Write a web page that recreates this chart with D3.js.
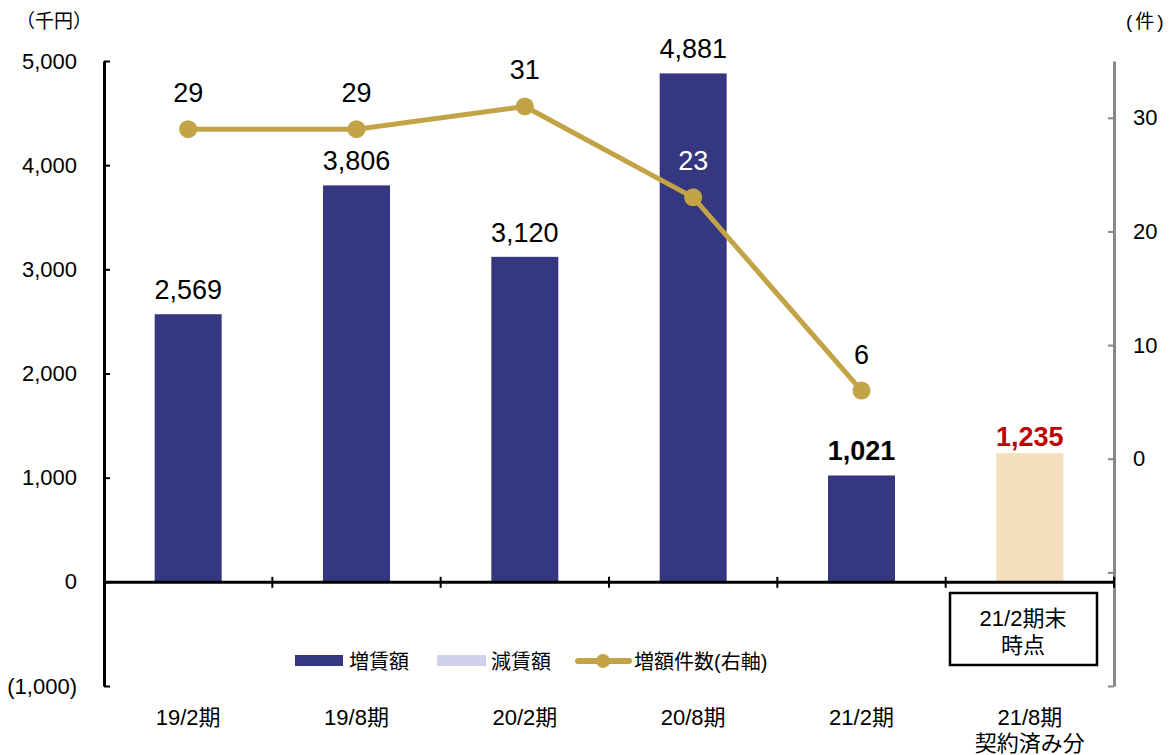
<!DOCTYPE html>
<html>
<head>
<meta charset="utf-8">
<script src="https://cdn.jsdelivr.net/npm/d3@7"></script>
<style>
  body { margin: 0; background: #fff; }
  text { font-family: "Liberation Sans", Arial, "Noto Sans CJK JP", sans-serif; }
</style>
</head>
<body>
<div id="chart"></div>
<script>
var categories = ["19/2期", "19/8期", "20/2期", "20/8期", "21/2期", "21/8期\n契約済み分"];
var increaseAmounts = [2569, 3806, 3120, 4881, 1021, 1235];
var increaseCounts = [29, 29, 31, 23, 6];
var leftTicks = [-1000, 0, 1000, 2000, 3000, 4000, 5000];
var rightTicks = [-20, -10, 0, 10, 20, 30];
var rightTickLabels = ["", "", "0", "10", "20", "30"];
var legendNames = ["増賃額", "減賃額", "増額件数(右軸)"];

function init() {
    var w = 1169, h = 755;
    var left = 104, right = 1114, top = 61, bottom = 686;
    var navy = "#363781", gold = "#C2A346", peach = "#F4DEBC", lavender = "#D1D1EE";

    var svg = d3.select("#chart").append("svg")
        .attr("width", w).attr("height", h);

    var x = d3.scaleBand().domain(categories).range([left, right]).paddingInner(0).paddingOuter(0);
    var y = d3.scaleLinear().domain([-1000, 5000]).range([bottom, top]);
    var y2 = d3.scaleLinear().domain([-20, 35]).range([bottom, top]);
    var barW = 67;

    // bars
    svg.selectAll("rect.bar").data(increaseAmounts).enter().append("rect")
        .attr("x", (d, i) => x(categories[i]) + x.bandwidth() / 2 - barW / 2)
        .attr("y", d => y(d))
        .attr("width", barW)
        .attr("height", d => y(0) - y(d))
        .attr("fill", (d, i) => i == 5 ? peach : navy);

    // bar labels
    svg.selectAll("text.bl").data(increaseAmounts).enter().append("text")
        .attr("x", (d, i) => x(categories[i]) + x.bandwidth() / 2)
        .attr("y", (d, i) => y(d) - (i == 5 ? 7 : 15))
        .attr("text-anchor", "middle")
        .attr("font-size", "27px")
        .attr("font-weight", (d, i) => i >= 4 ? "bold" : "normal")
        .attr("fill", (d, i) => i == 5 ? "#C00000" : "#000")
        .text(d => d3.format(",")(d));

    // left axis
    var yAxis = d3.axisLeft(y).tickValues(leftTicks)
        .tickFormat(d => d < 0 ? "(" + d3.format(",")(-d) + ")" : d3.format(",")(d))
        .tickSizeInner(-6).tickSizeOuter(0).tickPadding(27);
    var ga = svg.append("g").attr("transform", `translate(${left},0)`).call(yAxis);
    ga.select(".domain").attr("stroke", "#000").attr("stroke-width", 3);
    ga.selectAll(".tick line").attr("stroke", "#000").attr("stroke-width", 2);
    ga.selectAll(".tick text").attr("font-size", "22px").attr("fill", "#000")
        .attr("font-family", "Liberation Sans, Arial, sans-serif");

    // right axis
    var y2Axis = d3.axisRight(y2).tickValues(rightTicks)
        .tickFormat((d, i) => rightTickLabels[i])
        .tickSizeInner(-6).tickSizeOuter(0).tickPadding(19);
    var gr = svg.append("g").attr("transform", `translate(${right},0)`).call(y2Axis);
    gr.select(".domain").attr("stroke", "#888").attr("stroke-width", 3);
    gr.selectAll(".tick line").attr("stroke", "#888").attr("stroke-width", 2);
    gr.selectAll(".tick text").attr("font-size", "22px").attr("fill", "#000")
        .attr("font-family", "Liberation Sans, Arial, sans-serif");

    // x axis at zero
    var xAxis = d3.axisBottom(x).tickValues([]).tickSizeOuter(0);
    var gx = svg.append("g").attr("transform", `translate(0,${y(0)})`).call(xAxis);
    gx.select(".domain").attr("stroke", "#000").attr("stroke-width", 3);
    categories.slice(1).concat(["end"]).forEach(function (c) {
        var xx = c == "end" ? right : x(c);
        gx.append("line").attr("x1", xx).attr("x2", xx).attr("y1", -5).attr("y2", 6)
            .attr("stroke", "#000").attr("stroke-width", 2);
    });

    // category labels
    svg.selectAll("text.cat").data(categories).enter().append("text")
        .attr("x", d => x(d) + x.bandwidth() / 2)
        .attr("y", 725)
        .attr("text-anchor", "middle")
        .attr("font-size", "22px")
        .each(function (d) {
            var parts = d.split("\n");
            d3.select(this).selectAll("tspan").data(parts).enter().append("tspan")
                .attr("x", x(d) + x.bandwidth() / 2)
                .attr("dy", (p, j) => j == 0 ? 0 : 26)
                .text(p => p);
        });

    // line
    var line = d3.line().x((d, i) => x(categories[i]) + x.bandwidth() / 2).y(d => y2(d));
    svg.append("path").datum(increaseCounts).attr("d", line)
        .attr("fill", "none").attr("stroke", gold).attr("stroke-width", 5);
    svg.selectAll("circle.pt").data(increaseCounts).enter().append("circle")
        .attr("cx", (d, i) => x(categories[i]) + x.bandwidth() / 2)
        .attr("cy", d => y2(d))
        .attr("r", 9).attr("fill", gold);
    svg.selectAll("text.ll").data(increaseCounts).enter().append("text")
        .attr("x", (d, i) => x(categories[i]) + x.bandwidth() / 2)
        .attr("y", d => y2(d) - 27)
        .attr("text-anchor", "middle")
        .attr("font-size", "27px")
        .attr("fill", (d, i) => i == 3 ? "#fff" : "#000")
        .text(d => d);

    // unit labels
    svg.append("text").attr("x", 16).attr("y", 28).attr("font-size", "19px").text("（千円）");
    svg.append("text").attr("x", 1126).attr("y", 28).attr("font-size", "19px")
        .attr("letter-spacing", "3px").text("(件)");

    // legend
    var lg = svg.append("g");
    lg.append("rect").attr("x", 295).attr("y", 655).attr("width", 48).attr("height", 11).attr("fill", navy);
    lg.append("text").attr("x", 349).attr("y", 669).attr("font-size", "20px").text(legendNames[0]);
    lg.append("rect").attr("x", 437).attr("y", 655).attr("width", 49).attr("height", 11).attr("fill", lavender);
    lg.append("text").attr("x", 491).attr("y", 669).attr("font-size", "20px").text(legendNames[1]);
    lg.append("line").attr("x1", 578).attr("x2", 629).attr("y1", 661).attr("y2", 661)
        .attr("stroke", gold).attr("stroke-width", 6).attr("stroke-linecap", "round");
    lg.append("circle").attr("cx", 603).attr("cy", 661).attr("r", 7).attr("fill", gold);
    lg.append("text").attr("x", 634).attr("y", 669).attr("font-size", "20px").text(legendNames[2]);

    // note box
    svg.append("rect").attr("x", 950).attr("y", 593).attr("width", 147).attr("height", 72)
        .attr("fill", "#fff").attr("stroke", "#000").attr("stroke-width", 2.5);
    svg.append("text").attr("x", 1023).attr("y", 626).attr("text-anchor", "middle")
        .attr("font-size", "22px").text("21/2期末");
    svg.append("text").attr("x", 1023).attr("y", 653).attr("text-anchor", "middle")
        .attr("font-size", "22px").text("時点");
}

window.onload = init;
</script>
</body>
</html>
